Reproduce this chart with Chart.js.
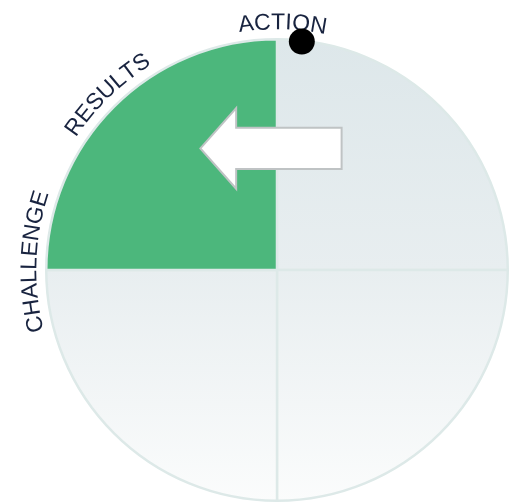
<!DOCTYPE html>
<html lang="en">
<head>
    <meta charset="UTF-8">
    <title>Cycle</title>
    <style>
        html, body { margin: 0; padding: 0; background: #ffffff; }
        #wrap { width: 512px; height: 504px; }
    </style>
</head>
<body>
<div id="wrap"><canvas id="cycle_chart"></canvas></div>
<script src="https://cdn.jsdelivr.net/npm/chart.js@4.4.1/dist/chart.umd.min.js"></script>
<script>
    // quadrants go clockwise from 12 o'clock
    const quadrants = ['Q1', 'Q2', 'Q3', 'Q4'];
    const quadrantValues = [1, 1, 1, 1];
    const activeQuadrant = [false, false, false, true];
    // ring labels and where they sit (degrees clockwise from top)
    const ringLabels = ['ACTION', 'RESULTS', 'CHALLENGE'];
    const ringLabelAngles = [1.3, -44, -88];
    // progress marker on the rim
    const markerAngle = 6.2;

    const navy = '#18233f';
    const green = '#4cb77c';

    function drawArcText(ctx, text, cx, cy, radius, centerDeg) {
        ctx.save();
        ctx.font = '23px "Liberation Sans", Arial, sans-serif';
        ctx.fillStyle = navy;
        ctx.textAlign = 'center';
        ctx.textBaseline = 'alphabetic';
        const spacing = 0;
        const widths = [...text].map(ch => ctx.measureText(ch).width + spacing);
        const total = widths.reduce((a, b) => a + b, 0) - spacing;
        let a = centerDeg * Math.PI / 180 - total / 2 / radius;
        [...text].forEach((ch, i) => {
            const half = (widths[i] - spacing) / 2;
            a += half / radius;
            ctx.save();
            ctx.translate(cx + radius * Math.sin(a), cy - radius * Math.cos(a));
            ctx.rotate(a);
            ctx.fillText(ch, 0, 0);
            ctx.restore();
            a += (half + spacing) / radius;
        });
        ctx.restore();
    }

    const decorPlugin = {
        id: 'decor',
        afterDraw(chart) {
            const arc = chart.getDatasetMeta(0).data[0];
            if (!arc) return;
            const ctx = chart.ctx;
            const cx = arc.x, cy = arc.y, r = arc.outerRadius;

            // arrow pointing left, across the top of the circle
            const tipX = cx - r * 0.332, tailX = cx + r * 0.28;
            const headX = cx - r * 0.177;
            const midY = cy - r * 0.527;
            const shaftH = r * 0.089, headH = r * 0.175;
            ctx.save();
            ctx.beginPath();
            ctx.moveTo(tipX, midY);
            ctx.lineTo(headX, midY - headH);
            ctx.lineTo(headX, midY - shaftH);
            ctx.lineTo(tailX, midY - shaftH);
            ctx.lineTo(tailX, midY + shaftH);
            ctx.lineTo(headX, midY + shaftH);
            ctx.lineTo(headX, midY + headH);
            ctx.closePath();
            ctx.fillStyle = '#ffffff';
            ctx.fill();
            ctx.lineWidth = 2;
            ctx.strokeStyle = '#bfc3c4';
            ctx.stroke();
            ctx.restore();

            // ring labels
            ringLabels.forEach((t, i) => drawArcText(ctx, t, cx, cy, r + 10, ringLabelAngles[i]));

            // marker dot
            const ma = markerAngle * Math.PI / 180;
            ctx.save();
            ctx.beginPath();
            ctx.arc(cx + (r - 1) * Math.sin(ma), cy - (r - 1) * Math.cos(ma), 13, 0, Math.PI * 2);
            ctx.fillStyle = '#000000';
            ctx.fill();
            ctx.restore();
        }
    };

    const ctx = document.getElementById('cycle_chart').getContext('2d');

    new Chart(ctx, {
        type: 'pie',
        plugins: [decorPlugin],
        data: {
            labels: quadrants,
            datasets: [{
                data: quadrantValues,
                backgroundColor: (c) => {
                    if (activeQuadrant[c.dataIndex]) return green;
                    const area = c.chart.chartArea;
                    if (!area) return '#e8eef0';
                    const g = c.chart.ctx.createLinearGradient(0, area.top, 0, area.bottom);
                    g.addColorStop(0, '#dde7ea');
                    g.addColorStop(0.5, '#e8eef0');
                    g.addColorStop(1, '#fbfcfc');
                    return g;
                },
                borderColor: '#dde9e8',
                borderWidth: 2.5,
                hoverOffset: 0
            }]
        },
        options: {
            responsive: true,
            maintainAspectRatio: false,
            animation: false,
            layout: {
                padding: { left: 45, right: 3, top: 38, bottom: 2 }
            },
            plugins: {
                legend: { display: false },
                tooltip: { enabled: false }
            },
            events: []
        }
    });
</script>
</body>
</html>
